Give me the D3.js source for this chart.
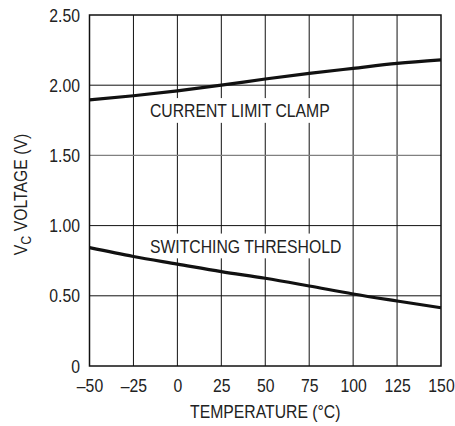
<!DOCTYPE html>
<html>
<head>
<meta charset="utf-8">
<script src="https://cdn.jsdelivr.net/npm/d3@7"></script>
<style>
  html, body { margin: 0; padding: 0; background: #fff; }
  svg text { font-family: "Liberation Sans", Arial, sans-serif; fill: #222; }
</style>
</head>
<body>
<div id="chart"></div>
<script>
// temperature axis (deg C)
const temps = [-50, -25, 0, 25, 50, 75, 100, 125, 150];
const tempTickLabels = ['–50', '–25', '0', '25', '50', '75', '100', '125', '150'];

// voltage axis (V)
const voltTicks = [0, 0.5, 1.0, 1.5, 2.0, 2.5];
const voltTickLabels = ['0', '0.50', '1.00', '1.50', '2.00', '2.50'];

// curves, one value per temperature
const clampVolts = [1.895, 1.925, 1.96, 2.0, 2.044, 2.084, 2.12, 2.155, 2.18];
const thresholdVolts = [0.843, 0.78, 0.726, 0.672, 0.625, 0.57, 0.513, 0.463, 0.415];

// curve labels: temperature / voltage of text start + baseline
const curveLabels = [
  { text: 'CURRENT LIMIT CLAMP', t: -15.6, v: 1.77 },
  { text: 'SWITCHING THRESHOLD', t: -15.6, v: 0.805 }
];

const width = 455, height = 426;
const margin = { top: 15, right: 14, bottom: 60, left: 89.5 };
const fontSize = 19;
const K = 0.83; // horizontal squeeze to get a narrow face

const svg = d3.select('#chart')
  .append('svg')
  .attr('width', width)
  .attr('height', height);

const x = d3.scaleLinear()
  .domain([-50, 150])
  .range([margin.left, width - margin.right]);

const y = d3.scaleLinear()
  .domain([0, 2.5])
  .range([height - margin.bottom, margin.top]);

// squeeze text horizontally, keeping its anchor point
const squeeze = sel => sel.each(function () {
  const t = d3.select(this);
  const xv = +t.attr('x') || 0;
  t.attr('x', xv / K).attr('transform', `scale(${K},1)`);
});

// grid
const grid = svg.append('g').attr('id', 'grid');

grid.selectAll('.vgrid')
  .data(temps.slice(1, -1))
  .enter()
  .append('line')
  .attr('x1', d => x(d)).attr('x2', d => x(d))
  .attr('y1', y(0)).attr('y2', y(2.5))
  .attr('stroke', '#111')
  .attr('stroke-width', 1);

grid.selectAll('.hgrid')
  .data(voltTicks.slice(1, -1))
  .enter()
  .append('line')
  .attr('x1', x(-50)).attr('x2', x(150))
  .attr('y1', d => y(d)).attr('y2', d => y(d))
  .attr('stroke', d => d === 1.5 ? '#808080' : '#111')
  .attr('stroke-width', d => d === 1.5 ? 1.4 : 1);

// curve labels with white backing
curveLabels.forEach(l => {
  const g = svg.append('g')
    .attr('transform', `translate(${x(l.t)},${y(l.v)})scale(${K},1)`);
  const bg = g.append('rect').attr('fill', '#fff');
  const t = g.append('text')
    .style('font-size', `${fontSize}px`)
    .text(l.text);
  const b = t.node().getBBox();
  bg.attr('x', b.x - 3).attr('y', b.y - 2)
    .attr('width', b.width + 7).attr('height', b.height + 3);
});

// curves
const line = d3.line()
  .x((d, i) => x(temps[i]))
  .y(d => y(d))
  .curve(d3.curveMonotoneX);

[clampVolts, thresholdVolts].forEach(series => {
  svg.append('path')
    .datum(series)
    .attr('d', line)
    .attr('fill', 'none')
    .attr('stroke', '#111')
    .attr('stroke-width', 3.2);
});

// frame
svg.append('rect')
  .attr('x', x(-50)).attr('y', y(2.5))
  .attr('width', x(150) - x(-50))
  .attr('height', y(0) - y(2.5))
  .attr('fill', 'none')
  .attr('stroke', '#111')
  .attr('stroke-width', 1.5);

// axes (labels only)
const xAxis = d3.axisBottom(x)
  .tickValues(temps)
  .tickFormat((d, i) => tempTickLabels[i])
  .tickSize(0)
  .tickPadding(13);

const yAxis = d3.axisLeft(y)
  .tickValues(voltTicks)
  .tickFormat((d, i) => voltTickLabels[i])
  .tickSize(0)
  .tickPadding(9.5);

svg.append('g')
  .attr('transform', `translate(0,${y(0)})`)
  .call(xAxis)
  .attr('font-family', null)
  .attr('font-size', null)
  .call(g => g.select('.domain').remove())
  .selectAll('text')
  .attr('fill', '#222')
  .style('font-size', `${fontSize}px`)
  .call(squeeze);

svg.append('g')
  .attr('transform', `translate(${x(-50)},0)`)
  .call(yAxis)
  .attr('font-family', null)
  .attr('font-size', null)
  .call(g => g.select('.domain').remove())
  .selectAll('text')
  .attr('fill', '#222')
  .style('font-size', `${fontSize}px`)
  .call(squeeze);

// axis titles
svg.append('text')
  .attr('x', (x(-50) + x(150)) / 2)
  .attr('y', 418)
  .attr('text-anchor', 'middle')
  .style('font-size', `${fontSize}px`)
  .text('TEMPERATURE (°C)')
  .call(squeeze);

const yTitle = svg.append('text')
  .attr('transform', `translate(26.5,${(y(0) + y(2.5)) / 2 + 4})rotate(-90)scale(${K},1)`)
  .attr('text-anchor', 'middle')
  .style('font-size', `${fontSize}px`);
yTitle.append('tspan').text('V');
yTitle.append('tspan').attr('dy', 4).style('font-size', '15px').text('C');
yTitle.append('tspan').attr('dy', -4).text(' VOLTAGE (V)');
</script>
</body>
</html>
